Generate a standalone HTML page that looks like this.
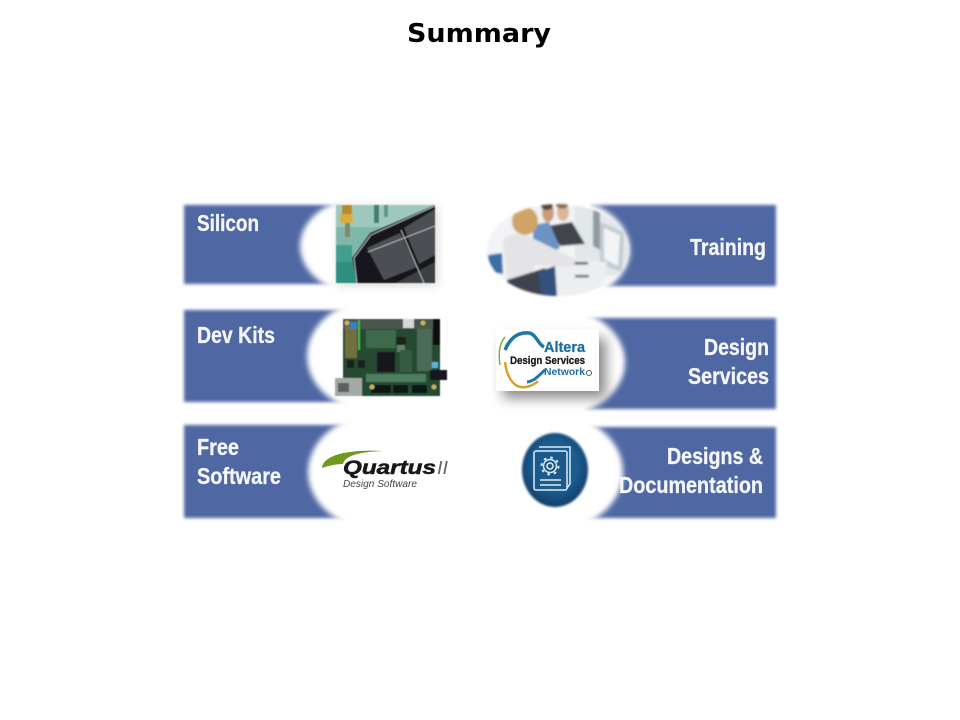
<!DOCTYPE html>
<html><head><meta charset="utf-8"><style>html,body{margin:0;padding:0;background:#fff}svg{display:block}</style></head><body>
<svg width="960" height="720" viewBox="0 0 960 720" xmlns="http://www.w3.org/2000/svg">
<defs>
<filter id="b" x="-5%" y="-10%" width="110%" height="120%"><feGaussianBlur stdDeviation="1.5"/></filter>
<filter id="b2" x="-10%" y="-10%" width="120%" height="120%"><feGaussianBlur stdDeviation="2.6"/></filter>
<filter id="s" x="-30%" y="-30%" width="160%" height="160%"><feGaussianBlur stdDeviation="5"/></filter>
<filter id="s2" x="-30%" y="-30%" width="160%" height="160%"><feGaussianBlur stdDeviation="6.5"/></filter>
<filter id="p" x="-5%" y="-5%" width="110%" height="110%"><feGaussianBlur stdDeviation="0.6"/></filter>
<filter id="e" x="-5%" y="-5%" width="110%" height="110%"><feGaussianBlur stdDeviation="1"/></filter>
<filter id="t" x="-10%" y="-20%" width="120%" height="140%"><feGaussianBlur stdDeviation="0.3"/></filter>
<clipPath id="c1"><rect x="336" y="205" width="99" height="78"/></clipPath>
<clipPath id="c2"><ellipse cx="558" cy="250" rx="71" ry="46"/></clipPath>
<radialGradient id="gt" cx="50%" cy="45%" r="55%"><stop offset="0" stop-color="#1e5f94"/><stop offset=".62" stop-color="#1b5c8e"/><stop offset=".85" stop-color="#154a78"/><stop offset="1" stop-color="#0e3a62"/></radialGradient>
</defs>
<rect width="960" height="720" fill="#fff"/>

<g filter="url(#b)" fill="#4f68a3">
<rect x="184" y="205" width="160" height="79"/>
<rect x="184" y="310" width="165" height="92"/>
<rect x="184" y="425" width="175" height="93"/>
<rect x="590" y="205" width="186" height="81"/>
<rect x="585" y="318" width="191" height="91"/>
<rect x="580" y="427" width="196" height="91"/>
</g>
<g filter="url(#b2)" fill="#fff">
<ellipse cx="368" cy="246" rx="68" ry="50"/>
<ellipse cx="377" cy="356" rx="70" ry="57"/>
<ellipse cx="385" cy="472" rx="77" ry="60"/>
<ellipse cx="556" cy="250" rx="74" ry="53"/>
<ellipse cx="551" cy="362" rx="74" ry="56"/>
<ellipse cx="548" cy="472" rx="75" ry="60"/>
</g>

<!-- Silicon photo -->
<rect x="338" y="207" width="99" height="78" fill="#777" opacity=".3" filter="url(#s)"/>
<g filter="url(#p)">
<g clip-path="url(#c1)">
<rect x="336" y="205" width="99" height="78" fill="#7fb8ab"/>
<rect x="336" y="205" width="99" height="22" fill="#9cc8be"/>
<polygon points="336,245 352,245 352,283 336,283" fill="#3f9f8e"/>
<polygon points="336,262 362,262 362,283 336,283" fill="#2f8f80"/>
<rect x="342" y="205" width="10" height="12" fill="#b98a2c"/>
<rect x="340" y="214" width="13" height="9" fill="#d9ad3e"/>
<rect x="345" y="223" width="5" height="14" fill="#7e8a63"/>
<rect x="374" y="205" width="5" height="18" fill="#3f8072"/>
<rect x="384" y="205" width="4" height="12" fill="#5f9487"/>
<polygon points="352,258 370,233 435,205 435,283 357,283" fill="#15171b"/>
<polygon points="367,248 400,233 417,267 384,280" fill="#4c4f53"/>
<polygon points="404,228 435,209 435,255 419,264" fill="#4c4f53"/>
<polygon points="375,283 396,283 424,268 435,262 435,283" fill="#3e4043"/>
<path d="M357 283 L354 258 L371 235 L435 206 M401 230 L424 283 M368 252 L435 226" stroke="#b9bdc0" stroke-width=".9" fill="none"/>
</g>
</g>

<!-- Dev kit -->
<g filter="url(#p)">
<rect x="343" y="319" width="97" height="77" fill="#264a33"/>
<rect x="343" y="319" width="97" height="10" fill="#4a544d"/>
<rect x="358" y="320" width="2" height="30" fill="#4cb84a"/>
<rect x="345" y="326" width="12" height="32" fill="#73703f"/>
<rect x="350" y="322" width="7" height="7" fill="#3a7fc0"/>
<rect x="403" y="319" width="11" height="9" fill="#d5d8d6"/>
<rect x="377" y="352" width="18" height="20" fill="#14181a"/>
<rect x="396" y="337" width="10" height="9" fill="#1a201e"/>
<rect x="397" y="345" width="8" height="7" fill="#60806a"/>
<rect x="347" y="360" width="7" height="8" fill="#16201a"/>
<rect x="358" y="360" width="7" height="8" fill="#16201a"/>
<rect x="366" y="330" width="30" height="18" fill="#3c6a4c"/>
<rect x="417" y="329" width="15" height="42" fill="#4b6a58"/>
<rect x="433" y="319" width="7" height="26" fill="#111"/>
<rect x="371" y="385" width="20" height="8" fill="#111613"/>
<rect x="393" y="385" width="15" height="8" fill="#111613"/>
<rect x="412" y="385" width="15" height="8" fill="#111613"/>
<rect x="366" y="374" width="60" height="8" fill="#4e7d5e"/>
<rect x="400" y="350" width="12" height="22" fill="#365c44"/>
<rect x="432" y="362" width="6" height="6" fill="#5fb2da"/>
<rect x="430" y="370" width="17" height="10" fill="#15181a"/>
<rect x="335" y="378" width="27" height="18" fill="#a5a9a6"/>
<rect x="338" y="383" width="11" height="9" fill="#5d605e"/>
<circle cx="347" cy="323" r="2.5" fill="#c9b35a"/><circle cx="423" cy="323" r="2.5" fill="#c9b35a"/>
<circle cx="372" cy="387" r="2.5" fill="#c9b35a"/><circle cx="434" cy="387" r="2.5" fill="#c9b35a"/>
</g>

<!-- Quartus logo -->
<path d="M322 468 C323 456 345 449 384 451 C358 452 345 456 343 464 C335 464 328 466 322 468 Z" fill="#6f9a1e" filter="url(#t)"/>
<text x="343" y="474" font-family="'Liberation Sans',sans-serif" font-weight="bold" font-style="italic" font-size="19" fill="#16181a" stroke="#16181a" stroke-width=".5" textLength="93" lengthAdjust="spacingAndGlyphs">Quartus</text>
<text x="437" y="474" font-family="'Liberation Sans',sans-serif" font-style="italic" font-size="18" fill="#666" textLength="11" lengthAdjust="spacingAndGlyphs">II</text>
<text x="343" y="487" font-family="'Liberation Sans',sans-serif" font-style="italic" font-size="10.5" fill="#444" textLength="74" lengthAdjust="spacingAndGlyphs">Design Software</text>

<!-- Training photo -->
<g filter="url(#e)"><g clip-path="url(#c2)">
<rect x="487" y="203" width="143" height="94" fill="#f1f3f5"/>
<rect x="575" y="205" width="55" height="70" fill="#e2e7ea"/>
<path d="M593 210 L600 212 L600 250 L593 246Z" fill="#8f9aa1"/>
<path d="M600 222 L624 232 L622 272 L600 264Z" fill="#c3ccd2"/>
<path d="M604 228 L620 235 L618 266 L604 259Z" fill="#f2f4f5"/>
<path d="M553 257 L607 262 L600 296 L553 296Z" fill="#eceef0"/>
<rect x="570" y="262" width="18" height="2.5" fill="#444"/>
<rect x="575" y="275" width="14" height="2.5" fill="#555"/>
<path d="M488 255 L502 253 L503 274 L490 272Z" fill="#3b6ea5"/>
<path d="M547 226 L572 222 L585 244 L560 246Z" fill="#40444c"/>
<path d="M533 225 L549 222 L560 248 L545 256 L533 258Z" fill="#6c93c3"/>
<ellipse cx="548" cy="213" rx="6" ry="9" fill="#c99b7c"/>
<ellipse cx="547" cy="206" rx="6" ry="4" fill="#5e4230"/>
<ellipse cx="563" cy="212" rx="6" ry="9" fill="#d9b69c"/>
<ellipse cx="562" cy="205" rx="6" ry="3.5" fill="#8a6a4c"/>
<path d="M503 240 C510 232 525 232 532 238 L577 260 L572 267 L535 265 L530 277 L507 280Z" fill="#e4e4e7"/>
<ellipse cx="525" cy="221" rx="13" ry="14" fill="#d0a468"/>
<path d="M507 280 L545 268 L555 296 L507 296Z" fill="#3d4350"/>
<path d="M538 272 L555 266 L557 296 L542 296Z" fill="#33517c"/>
</g></g>

<!-- Design services logo -->
<rect x="503" y="338" width="103" height="60" fill="#555" opacity=".7" filter="url(#s2)"/>
<rect x="496" y="329" width="103" height="62" fill="#fff"/>
<path d="M505 350 C511 336 520 332 529 333 C536 334 538 344 544 347" fill="none" stroke="#1f76a8" stroke-width="3.5"/>
<path d="M505 362 C507 378 514 389 526 387 C532 386 535 384 538 381" fill="none" stroke="#d9a02c" stroke-width="2.5"/>
<path d="M500 365 C498 352 500 343 505 337" fill="none" stroke="#7db043" stroke-width="1.5"/>
<path d="M527 382 C535 381 539 375 545 370" fill="none" stroke="#1f76a8" stroke-width="3"/>
<text x="544" y="352" font-family="'Liberation Sans',sans-serif" font-weight="bold" font-size="15" fill="#1f6fa5" stroke="#1f6fa5" stroke-width=".3" textLength="41" lengthAdjust="spacingAndGlyphs">Altera</text>
<text x="510" y="364" font-family="'Liberation Sans',sans-serif" font-weight="bold" font-size="11" fill="#15181a" stroke="#15181a" stroke-width=".25" textLength="75" lengthAdjust="spacingAndGlyphs">Design Services</text>
<text x="544" y="375" font-family="'Liberation Sans',sans-serif" font-weight="bold" font-size="10.5" fill="#1f6fa5" textLength="41" lengthAdjust="spacingAndGlyphs">Network</text>
<circle cx="589" cy="373" r="2.6" fill="none" stroke="#555" stroke-width=".9"/>

<!-- Docs icon -->
<ellipse cx="555" cy="470" rx="33" ry="37" fill="url(#gt)" filter="url(#e)"/>
<g fill="none" stroke="#dceaf3" stroke-width="1.5">
<path d="M539 447 L570 447 L570 484 L567 488"/>
<rect x="534" y="451" width="33" height="39" rx="2" fill="#1c5a8c"/>
<circle cx="550" cy="466" r="3"/>
<circle cx="550" cy="466" r="6.5" stroke-width="1.4"/>
<circle cx="550" cy="466" r="8.5" stroke-dasharray="2.6 4.07" stroke-width="2"/>
<path d="M540 480 H561 M540 485 H561"/>
</g>

<!-- Labels -->
<g font-family="'Liberation Sans',sans-serif" font-weight="bold" font-size="23" fill="#f4f6fa" stroke="#f4f6fa" stroke-width=".3" filter="url(#t)">
<text x="197" y="231" textLength="62" lengthAdjust="spacingAndGlyphs">Silicon</text>
<text x="197" y="343" textLength="78" lengthAdjust="spacingAndGlyphs">Dev Kits</text>
<text x="197" y="455" textLength="42" lengthAdjust="spacingAndGlyphs">Free</text>
<text x="197" y="484" textLength="84" lengthAdjust="spacingAndGlyphs">Software</text>
<text x="690" y="255" textLength="76" lengthAdjust="spacingAndGlyphs">Training</text>
<text x="704" y="355" textLength="65" lengthAdjust="spacingAndGlyphs">Design</text>
<text x="688" y="384" textLength="81" lengthAdjust="spacingAndGlyphs">Services</text>
<text x="667" y="464" textLength="96" lengthAdjust="spacingAndGlyphs">Designs &amp;</text>
<text x="619" y="493" textLength="144" lengthAdjust="spacingAndGlyphs">Documentation</text>
</g>

<text x="407" y="42" font-family="'DejaVu Sans',sans-serif" font-weight="bold" font-size="26" fill="#000" textLength="144" lengthAdjust="spacingAndGlyphs">Summary</text>
</svg>
</body></html>
